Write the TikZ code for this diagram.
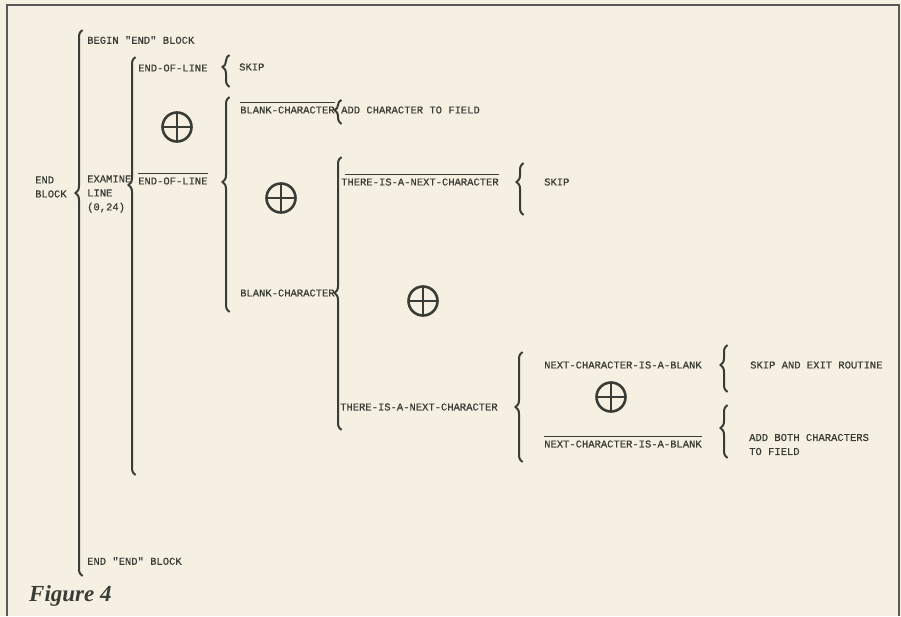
\documentclass[tikz,border=0pt]{standalone}
\usepackage{fontspec}
\newfontfamily\typefont[FakeBold=0.6]{Liberation Mono}
\newfontfamily\figfont{Liberation Serif}
\usetikzlibrary{decorations.pathreplacing}
\definecolor{paper}{HTML}{F6F0E3}
\definecolor{ink}{HTML}{3A3D35}
\tikzset{lbl/.style={
    anchor=west,
    inner sep=0pt,
    align=left,
    text=ink,
    font=\typefont\fontsize{10.5}{14}\selectfont
  },
  bar/.style={draw=ink,line width=1.2pt},
  exor/.style={circle,draw=ink,line width=2.6pt,minimum size=29pt,inner sep=0pt,
    path picture={\draw[ink,line width=2.6pt]
      (path picture bounding box.north) -- (path picture bounding box.south)
      (path picture bounding box.west) -- (path picture bounding box.east);}},
  wbrace/.style={decorate,decoration={brace,amplitude=7pt},draw=ink,line width=2pt},
  frame/.style={draw=black!65,line width=1.6pt},
}
\begin{document}
\begin{tikzpicture}[x=1pt,y=-1pt]
  \fill[paper] (0,0) rectangle (901,616);
  \useasboundingbox (0,0) rectangle (901,616);
  \draw[frame] (7,616) -- (7,5) -- (899,5) -- (899,616);

  % sequence labels
  \node[lbl] (blk) at (35,187) {END\\BLOCK};
  \node[lbl] (beg) at (87,40) {BEGIN "END" BLOCK};
  \node[lbl] (exam) at (87,194) {EXAMINE\\LINE\\(0,24)};
  \node[lbl] (endb) at (87,561) {END "END" BLOCK};

  \node[lbl] (eol1) at (138,68) {END-OF-LINE};
  \node[lbl] (skip1) at (239,67) {SKIP};
  \node[exor] (x1) at (177,127) {};
  \node[lbl] (eol2) at (138,181) {END-OF-LINE};

  \node[lbl] (bc1) at (240,110) {BLANK-CHARACTER};
  \node[lbl] (add1) at (341,110) {ADD CHARACTER TO FIELD};
  \node[exor] (x2) at (281,198) {};
  \node[lbl] (bc2) at (240,293) {BLANK-CHARACTER};

  \node[lbl] (nx1) at (341,182) {THERE-IS-A-NEXT-CHARACTER};
  \node[lbl] (skip2) at (544,182) {SKIP};
  \node[exor] (x3) at (423,301) {};
  \node[lbl] (nx2) at (340,407) {THERE-IS-A-NEXT-CHARACTER};

  \node[lbl] (nb1) at (544,365) {NEXT-CHARACTER-IS-A-BLANK};
  \node[lbl] (skip3) at (750,365) {SKIP AND EXIT ROUTINE};
  \node[exor] (x4) at (611,397) {};
  \node[lbl] (nb2) at (544,444) {NEXT-CHARACTER-IS-A-BLANK};
  \node[lbl] (add2) at (749,444.5) {ADD BOTH CHARACTERS\\TO FIELD};

  \node[anchor=west,inner sep=0pt,text=ink,font=\figfont\bfseries\itshape\fontsize{23}{26}\selectfont]
    (fig) at (29,596) {Figure 4};

  % negated conditions
  \foreach \n in {eol2,bc1,nb2}
    \draw[bar] ([yshift=4pt]\n.north west) -- ([yshift=4pt]\n.north east);
  \draw[bar] ([xshift=4pt,yshift=4pt]nx1.north west) -- ([yshift=4pt]nx1.north east);

  % braces: x, top, bottom, tip
  \foreach \x/\t/\b/\p in {79/30/576/193, 132/57/475/185, 226/55/87/67,
      226/97/312/182, 338/100/124/110, 338/157/430/293, 520/163/215/182,
      519/352/462/407, 724/345/392/365, 724/405/458/428} {
    \pgfmathsetmacro\asp{(\b-\p)/(\b-\t)}
    \draw[wbrace,decoration={aspect=\asp}] (\x+3.5,\b) -- (\x+3.5,\t);
  }
\end{tikzpicture}
\end{document}
